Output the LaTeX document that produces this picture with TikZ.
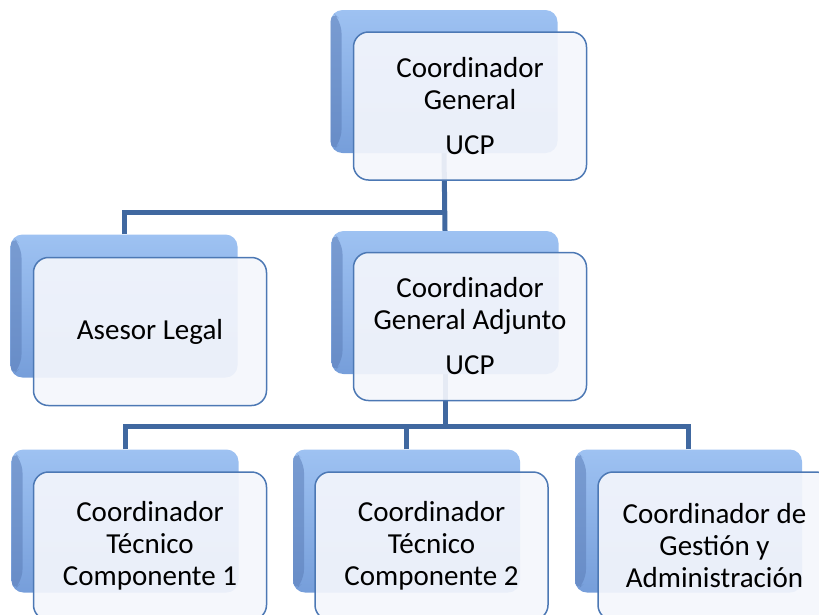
\documentclass[tikz,border=0pt]{standalone}
\usepackage{fontspec}
\setmainfont{Carlito}
\usetikzlibrary{backgrounds}

\definecolor{linkblue}{RGB}{64,104,160}
\definecolor{backtop}{RGB}{158,194,242}
\definecolor{backbot}{RGB}{118,158,218}
\definecolor{backdark}{RGB}{92,126,184}
\definecolor{frontline}{RGB}{76,120,180}
\definecolor{frontfill}{RGB}{244,246,252}

\begin{document}
\begin{tikzpicture}[x=1pt,y=-1pt,
    back/.style={rounded corners=12pt,minimum width=227pt,minimum height=143pt,inner sep=0pt,
      top color=backtop,bottom color=backbot,
      path picture={\fill[backdark,opacity=0.55] (path picture bounding box.north west)
        -- ([shift={(11pt,-11pt)}]path picture bounding box.north west)
        -- ([shift={(11pt,11pt)}]path picture bounding box.south west)
        -- (path picture bounding box.south west) -- cycle;}},
    front/.style={draw=frontline,line width=1.5pt,rounded corners=15pt,fill=frontfill,
      fill opacity=0.92,text opacity=1,minimum width=233pt,minimum height=148pt,
      inner sep=0pt,align=center,font=\fontsize{29}{32}\selectfont},
    link/.style={draw=linkblue,line width=5pt}]

      \useasboundingbox (0,0) rectangle (819,614);
      \clip (0,0) rectangle (819,614);

      % back boxes
      \node[back] (gen) at (444,81.5) {};
      \node[back] (legal) at (124,306) {};
      \node[back] (adj) at (445,302.5) {};
      \node[back] (tec1) at (125,521) {};
      \node[back] (tec2) at (406.5,521) {};
      \node[back] (gest) at (688.5,521) {};

      % front boxes
      \node[front] (genf) at ([shift={(26,24.5)}]gen) {Coordinador\\General\\[13pt]UCP};
      \node[front] (legalf) at ([shift={(26,25.5)}]legal) {Asesor Legal};
      \node[front] (adjf) at ([shift={(25,24)}]adj) {Coordinador\\General Adjunto\\[13pt]UCP};
      \node[front] (tec1f) at ([shift={(25,25)}]tec1) {Coordinador\\Técnico\\Componente 1};
      \node[front] (tec2f) at ([shift={(25,25)}]tec2) {Coordinador\\Técnico\\Componente 2};
      \node[front] (gestf) at ([shift={(26,25)}]gest) {Coordinador de\\Gestión y\\Administración};

      \coordinate (bus1) at (444,212);
      \coordinate (bus2) at (445,426);

      \begin{pgfonlayer}{background}
      \draw[link] (gen.south) -- (adj.north);
      \draw[link] (legal.north) |- (bus1);
      \draw[link] (adj.south) -- (bus2);
      \draw[link] (tec1.north) |- (bus2);
      \draw[link] (gest.north) |- (bus2);
      \draw[link] (tec2.north) -- (tec2.north |- bus2);
      \end{pgfonlayer}
    \end{tikzpicture}
\end{document}
